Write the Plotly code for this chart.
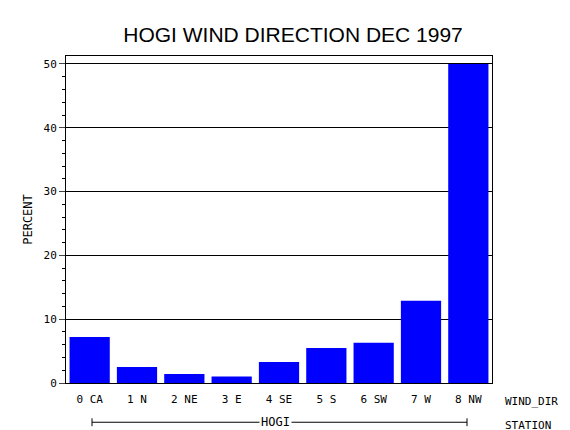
import plotly.graph_objects as go

categories = ["0 CA", "1 N", "2 NE", "3 E", "4 SE", "5 S", "6 SW", "7 W", "8 NW"]
percent = [7.2, 2.5, 1.4, 1.0, 3.3, 5.5, 6.3, 12.9, 50.0]
y_ticks = [0, 10, 20, 30, 40, 50]

FONT = "DejaVu Sans Mono"
fig = go.Figure(go.Bar(x=categories, y=percent, marker=dict(color="#0000ff", line=dict(width=0))))
fig.update_layout(
    width=570, height=430, margin=dict(l=58, r=86, t=48, b=55, autoexpand=False),
    paper_bgcolor="white", plot_bgcolor="white", bargap=0.15, showlegend=False,
    font=dict(family=FONT, size=11, color="black"),
    title=dict(text="HOGI WIND DIRECTION DEC 1997", x=0.5, xanchor="center", y=0.955,
               font=dict(family="Liberation Sans", size=21, color="black")),
)
fig.update_yaxes(range=[0, 51.25], tickvals=y_ticks, ticks="outside", ticklen=6,
                 minor=dict(ticks="outside", ticklen=3, dtick=2, tickcolor="black"),
                 showgrid=True, gridcolor="black", gridwidth=1, zeroline=False,
                 showline=True, linecolor="black", mirror=True, automargin=False,
                 title=dict(text="PERCENT", font=dict(size=12), standoff=8))
fig.update_xaxes(showline=True, linecolor="black", mirror=True, ticks="", ticklabelstandoff=6,
                 automargin=False)
fig.add_annotation(text="WIND_DIR", xref="paper", yref="paper", x=1.025, y=-0.057,
                   xanchor="left", yanchor="middle", showarrow=False, font=dict(size=11))
fig.add_annotation(text="STATION", xref="paper", yref="paper", x=1.025, y=-0.13,
                   xanchor="left", yanchor="middle", showarrow=False, font=dict(size=11))
fig.add_annotation(text="HOGI", xref="paper", yref="paper", x=0.492, y=-0.12,
                   xanchor="center", yanchor="middle", showarrow=False, font=dict(size=12),
                   bgcolor="white")
x0, x1, yl = 26/426, 401/426, -0.12
fig.add_shape(type="line", xref="paper", yref="paper", x0=x0, x1=x1, y0=yl, y1=yl, line=dict(color="black", width=1))
for xx in (x0, x1):
    fig.add_shape(type="line", xref="paper", yref="paper", x0=xx, x1=xx, y0=yl-0.012, y1=yl+0.012, line=dict(color="black", width=1))
fig.write_html("out.html")
